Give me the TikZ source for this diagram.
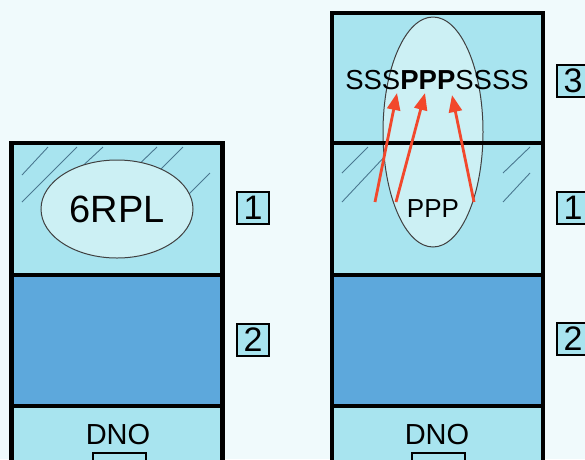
\documentclass[tikz,border=0pt]{standalone}
\usepackage{fontspec}
\setmainfont{Liberation Sans}
\usetikzlibrary{arrows.meta,shapes.geometric}
\definecolor{paper}{HTML}{F0FAFC}
\definecolor{slablight}{HTML}{A8E4EF}
\definecolor{slabdark}{HTML}{5DA8DC}
\definecolor{ovalfill}{HTML}{CCF0F4}
\definecolor{hatchcol}{HTML}{4A7890}
\definecolor{arrowred}{HTML}{F2482C}
\tikzset{
  slab/.style={rectangle, minimum width=211pt, inner sep=0pt, outer sep=0pt},
  slabframe/.style={draw=black, line width=4.5pt},
  oval/.style={ellipse, draw=black!75, line width=1pt, fill=ovalfill, inner sep=0pt},
  tagbox/.style={draw, line width=2pt, fill=slablight, minimum size=32pt, inner sep=0pt, font=\fontsize{34}{34}\selectfont},
  hatch/.style={draw=hatchcol, line width=0.9pt},
  redarrow/.style={draw=arrowred, line width=2.8pt, -{Triangle[length=17pt,width=13pt]}},
}
\begin{document}
\begin{tikzpicture}[x=1pt,y=-1pt]
\clip (0,0) rectangle (585,459);
\fill[paper] (0,0) rectangle (585,459);
\node[slab, fill=slablight, minimum height=132pt] (la) at (117,209) {};
\node[slab, fill=slabdark, minimum height=131pt] (lb) at (117,340.5) {};
\node[slab, fill=slablight, minimum height=84pt] (lc) at (117,448) {};
\node[slab, fill=slablight, minimum height=130pt] (ra) at (437.5,78) {};
\node[slab, fill=slablight, minimum height=132pt] (rb) at (437.5,209) {};
\node[slab, fill=slabdark, minimum height=131pt] (rc) at (437.5,340.5) {};
\node[slab, fill=slablight, minimum height=84pt] (rd) at (437.5,448) {};
\draw[hatch] (22,175) -- (48,147);
\draw[hatch] (22,202) -- (77,147);
\draw[hatch] (75,173) -- (103,147);
\draw[hatch] (130,173) -- (157,147);
\draw[hatch] (157,173) -- (183,147);
\draw[hatch] (183,200) -- (210,173);
\draw[hatch] (342,173) -- (368,147);
\draw[hatch] (342,202) -- (388,153);
\draw[hatch] (503,173) -- (530,147);
\draw[hatch] (503,202) -- (530,173);
\node[oval, minimum width=152pt, minimum height=98pt, font=\fontsize{38}{38}\selectfont] (ol) at (117,209) {6RPL};
\node[oval, minimum width=100pt, minimum height=230pt] (or) at (433,132) {};
\draw[slabframe] (la.north west) rectangle (la.south east);
\draw[slabframe] (lb.north west) rectangle (lb.south east);
\draw[slabframe] (lc.north west) rectangle (lc.south east);
\draw[slabframe] (ra.north west) rectangle (ra.south east);
\draw[slabframe] (rb.north west) rectangle (rb.south east);
\draw[slabframe] (rc.north west) rectangle (rc.south east);
\draw[slabframe] (rd.north west) rectangle (rd.south east);
\node[font=\fontsize{27.5}{27.5}\selectfont, inner sep=0pt] (seq) at (437,80) {SSS\textbf{PPP}SSSS};
\node[font=\fontsize{26}{26}\selectfont, inner sep=0pt] (ppp) at (433,209) {PPP};
\node[font=\fontsize{29}{29}\selectfont, inner sep=0pt] (dnol) at (118,435) {DNO};
\node[font=\fontsize{29}{29}\selectfont, inner sep=0pt] (dnor) at (437,435) {DNO};
\node[draw, line width=1.2pt, fill=slablight, minimum width=53pt, minimum height=20pt] (kl) at (119.5,463) {};
\node[draw, line width=1.2pt, fill=slablight, minimum width=53pt, minimum height=20pt] (kr) at (438.5,463) {};
\coordinate (s1) at (375,202);
\coordinate (e1) at (397,93);
\coordinate (s2) at (396,202);
\coordinate (e2) at (425,93);
\coordinate (s3) at (474,202);
\coordinate (e3) at (452,95);
\draw[redarrow] (s1) -- (e1);
\draw[redarrow] (s2) -- (e2);
\draw[redarrow] (s3) -- (e3);
\node[tagbox] (tl1) at (253,208) {1};
\node[tagbox] (tl2) at (253,340) {2};
\node[tagbox] (tr3) at (573,81) {3};
\node[tagbox] (tr1) at (573,208) {1};
\node[tagbox] (tr2) at (573,339) {2};
\end{tikzpicture}
\end{document}
